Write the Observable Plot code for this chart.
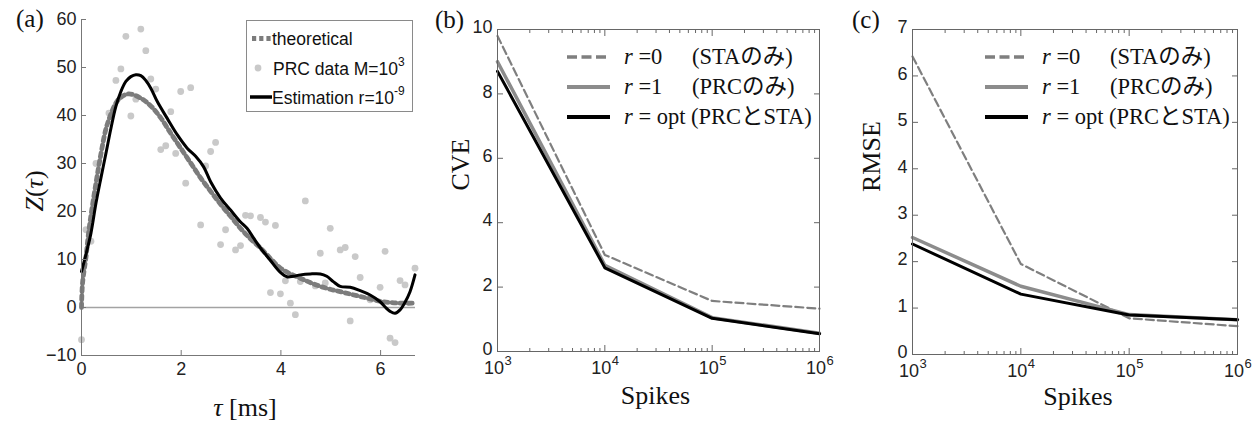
<!DOCTYPE html>
<html><head><meta charset="utf-8">
<script src="https://cdn.jsdelivr.net/npm/d3@7"></script>
<script src="https://cdn.jsdelivr.net/npm/@observablehq/plot@0.6"></script>
<style>
body{margin:0;background:#fff;}
#root{position:relative;width:1254px;height:427px;overflow:hidden;background:#fff;}
.panel{position:absolute;top:0;}
#ov{position:absolute;left:0;top:0;pointer-events:none;}
</style></head><body><div id="root"></div>
<script>
// ---------- Panel (a) data ----------
const thTau = [0, 0.02, 0.09, 0.15, 0.29, 0.39, 0.49, 0.59, 0.69, 0.79, 0.95, 1.19, 1.39, 1.59, 1.79, 1.99, 2.19, 2.39, 2.59, 2.79, 2.99, 3.19, 3.39, 3.59, 3.79, 3.99, 4.19, 4.39, 4.59, 4.79, 4.99, 5.19, 5.39, 5.59, 5.79, 5.99, 6.19, 6.39, 6.69];
const thZ = [0, 5, 10.5, 16.2, 25.9, 32, 37.2, 40.3, 42.6, 43.8, 44.5, 43.6, 42, 39.5, 36.3, 33.2, 30.1, 27, 24.2, 21.5, 19, 16.5, 14.3, 12.4, 10.2, 8.2, 7.0, 6.1, 5.2, 4.4, 3.8, 3.3, 2.8, 2.3, 1.8, 1.3, 1.05, 0.9, 0.9];
const estTau = [0, 0.1, 0.19, 0.29, 0.39, 0.49, 0.59, 0.69, 0.79, 0.89, 0.99, 1.09, 1.19, 1.29, 1.39, 1.52, 1.72, 1.92, 2.12, 2.29, 2.45, 2.59, 2.79, 2.99, 3.19, 3.32, 3.45, 3.59, 3.79, 3.99, 4.12, 4.25, 4.39, 4.59, 4.79, 4.92, 5.05, 5.19, 5.39, 5.59, 5.79, 5.99, 6.09, 6.19, 6.29, 6.39, 6.49, 6.59, 6.69];
const estZ = [7.5, 11.5, 15.5, 21.7, 27, 32.1, 37.3, 41.9, 45, 47.1, 48.1, 48.5, 48.3, 47.3, 45.7, 42.9, 39.4, 36, 33.2, 31.5, 29.3, 26.2, 22.8, 20.3, 17.8, 16.5, 14.5, 12.4, 9.8, 7.3, 6.4, 6.5, 6.8, 7.0, 7.0, 6.5, 5.4, 4.4, 4.2, 3.5, 2.6, 1.2, 0.1, -0.8, -1.2, -0.5, 1.1, 3.3, 6.8];
const prcTau = [0, 0.09, 0.19, 0.29, 0.55, 0.69, 0.79, 0.89, 0.99, 1.09, 1.19, 1.29, 1.39, 1.49, 1.59, 1.69, 1.79, 1.89, 1.99, 2.09, 2.19, 2.39, 2.49, 2.59, 2.69, 2.79, 2.89, 3.09, 3.19, 3.29, 3.39, 3.59, 3.69, 3.79, 3.89, 3.99, 4.09, 4.19, 4.29, 4.39, 4.49, 4.69, 4.79, 4.89, 4.99, 5.19, 5.29, 5.39, 5.49, 5.59, 5.79, 5.99, 6.09, 6.19, 6.29, 6.39, 6.49, 6.69];
const prcZ = [-6.7, 16.2, 13.8, 30, 40.5, 47.3, 49.7, 56.5, 39.9, 43.4, 58, 53.5, 47.6, 45.5, 32.9, 33.7, 40.8, 32.1, 45, 25.9, 45.8, 17.2, 29.5, 32.5, 34.4, 13.1, 16.2, 12.0, 12.9, 19.2, 19.1, 18.75, 17.8, 3.1, 17.1, 2.85, 5.55, 0.9, -1.5, 5.4, 22.2, 4.5, 11.3, 5.1, 16.5, 12.0, 12.5, -2.8, 10.6, 6.25, 1.6, 4.2, 11.7, -6.4, -7.3, 5.6, 4.7, 8.2];
const yTicksA = [-10, 0, 10, 20, 30, 40, 50, 60];
const xTicksA = [0, 2, 4, 6];

// ---------- Panels (b), (c) data ----------
const spikes = [1e3, 1e4, 1e5, 1e6];
const cveR0 = [9.8, 3.0, 1.57, 1.33];
const cveR1 = [9.0, 2.68, 1.05, 0.57];
const cveOpt = [8.7, 2.6, 1.03, 0.55];
const rmseR0 = [6.42, 1.95, 0.78, 0.61];
const rmseR1 = [2.52, 1.47, 0.86, 0.75];
const rmseOpt = [2.38, 1.30, 0.85, 0.75];
const yTicksB = [0, 2, 4, 6, 8, 10];
const yTicksC = [0, 1, 2, 3, 4, 5, 6, 7];
const minorSpikes = [2e3,3e3,4e3,5e3,6e3,7e3,8e3,9e3,2e4,3e4,4e4,5e4,6e4,7e4,8e4,9e4,2e5,3e5,4e5,5e5,6e5,7e5,8e5,9e5];

const zip = (xs, ys) => xs.map((x, i) => ({x, y: ys[i]}));
const SANS = "Liberation Sans, Arial, sans-serif";
const SERIF = "Liberation Serif, Times New Roman, serif";
const baseStyle = {fontFamily: SANS, fontSize: "18px", color: "#222", background: "transparent", overflow: "visible"};

const plotA = Plot.plot({
  width: 420, height: 427,
  marginLeft: 81, marginRight: 5, marginTop: 19, marginBottom: 72,
  x: {domain: [0, 6.7]},
  y: {domain: [-10, 60]},
  style: baseStyle,
  marks: [
    Plot.ruleY([0], {stroke: "#a3a3a3", strokeWidth: 1.4}),
    Plot.dot(zip(prcTau, prcZ), {x: "x", y: "y", r: 3.4, fill: "#c9c9c9", stroke: "none"}),
    Plot.line(zip(thTau, thZ), {x: "x", y: "y", stroke: "#7c7c7c", strokeWidth: 4.8, strokeDasharray: "4,4", curve: "catmull-rom"}),
    Plot.line(zip(estTau, estZ), {x: "x", y: "y", stroke: "#000", strokeWidth: 3, curve: "catmull-rom"}),
    Plot.ruleX([0], {stroke: "#777"}),
    Plot.ruleY([-10], {stroke: "#777"}),
    Plot.axisY(yTicksA, {tickSize: 0, tickPadding: 5, label: null}),
    Plot.axisY(yTicksA, {tickSize: 5, dx: 5, text: null, label: null, stroke: "#777"}),
    Plot.axisX(xTicksA, {tickSize: 0, tickPadding: 7, label: null}),
    Plot.axisX(xTicksA, {tickSize: 5, dy: -5, text: null, label: null, stroke: "#777"})
  ]
});

function errPanel({width, marginLeft, marginRight, marginBottom, yDomain, yTicks, r0, r1, ropt, yTitle, yTitleDx, xTitleDx, xTitleDy}) {
  return Plot.plot({
    width, height: 427, marginLeft, marginRight, marginTop: 29, marginBottom,
    x: {type: "log", domain: [1e3, 1e6]},
    y: {domain: yDomain},
    style: baseStyle,
    marks: [
      Plot.line(zip(spikes, r0), {x: "x", y: "y", stroke: "#7f7f7f", strokeWidth: 2.2, strokeDasharray: "8,4"}),
      Plot.line(zip(spikes, r1), {x: "x", y: "y", stroke: "#8c8c8c", strokeWidth: 3.5}),
      Plot.line(zip(spikes, ropt), {x: "x", y: "y", stroke: "#000", strokeWidth: 3}),
      Plot.frame({stroke: "#666"}),
      Plot.axisY(yTicks, {anchor: "left", tickSize: 0, tickPadding: 5, dy: -2, label: null}),
      Plot.axisY(yTicks, {anchor: "left", tickSize: 6, dx: 6, text: null, label: null, stroke: "#666"}),
      Plot.axisY(yTicks, {anchor: "right", tickSize: 6, dx: -6, text: null, label: null, stroke: "#666"}),
      Plot.axisX(spikes, {anchor: "bottom", tickSize: 6, dy: -6, text: null, label: null, stroke: "#666"}),
      Plot.axisX(spikes, {anchor: "top", tickSize: 6, dy: 6, text: null, label: null, stroke: "#666"}),
      Plot.axisX(minorSpikes, {anchor: "bottom", tickSize: 3, dy: -3, text: null, label: null, stroke: "#666"}),
      Plot.axisX(minorSpikes, {anchor: "top", tickSize: 3, dy: 3, text: null, label: null, stroke: "#666"}),
      Plot.text(spikes, {x: d => d, frameAnchor: "bottom", text: () => "10", textAnchor: "end", dx: 6.5, dy: 22, fontSize: 18, fill: "#222"}),
      Plot.text(spikes, {x: d => d, frameAnchor: "bottom", text: d => String(Math.round(Math.log10(d))), textAnchor: "start", dx: 7, dy: 13, fontSize: 13, fill: "#222"}),
      Plot.text(["Spikes"], {frameAnchor: "bottom", dx: xTitleDx, dy: xTitleDy, fontSize: 26, fontFamily: SERIF, fill: "#111"}),
      Plot.text([yTitle], {frameAnchor: "left", rotate: -90, dx: yTitleDx, fontSize: 26, fontFamily: SERIF, fill: "#111"})
    ]
  });
}

const plotB = errPanel({width: 420, marginLeft: 77, marginRight: 21, marginBottom: 76, yDomain: [0, 10], yTicks: yTicksB,
  r0: cveR0, r1: cveR1, ropt: cveOpt, yTitle: "CVE", yTitleDx: -37, xTitleDx: -3, xTitleDy: 52});
const plotC = errPanel({width: 414, marginLeft: 72, marginRight: 17, marginBottom: 73, yDomain: [0, 7], yTicks: yTicksC,
  r0: rmseR0, r1: rmseR1, ropt: rmseOpt, yTitle: "RMSE", yTitleDx: -41, xTitleDx: 3, xTitleDy: 50});

const root = document.getElementById("root");
[[plotA, 0], [plotB, 420], [plotC, 840]].forEach(([p, left]) => {
  const d = document.createElement("div");
  d.className = "panel"; d.style.left = left + "px";
  d.appendChild(p); root.appendChild(d);
});

// ---------- overlay: panel letters, mixed-style axis titles, legends ----------
const legendRows = [
  {r: "=0", paren: "(STAのみ)", stroke: "#7f7f7f", w: 3.6, dash: "10,4.5"},
  {r: "=1", paren: "(PRCのみ)", stroke: "#8c8c8c", w: 4.2, dash: null},
  {r: "= opt", paren: "(PRCとSTA)", stroke: "#000", w: 4.2, dash: null}
];
const rowY = [57, 87, 117];
function errLegend(x0) {
  return legendRows.map((row, i) => {
    const y = rowY[i];
    const line = `<line x1="${x0}" x2="${x0 + 43}" y1="${y}" y2="${y}" stroke="${row.stroke}" stroke-width="${row.w}" ${row.dash ? `stroke-dasharray="${row.dash}"` : ""}/>`;
    let txt;
    if (i < 2) {
      txt = `<text x="${x0 + 57}" y="${y + 7}" font-size="22.5"><tspan font-style="italic">r</tspan> ${row.r}</text>` +
            `<text x="${x0 + 125}" y="${y + 7}" font-size="22.5">${row.paren}</text>`;
    } else {
      txt = `<text x="${x0 + 57}" y="${y + 7}" font-size="22.5"><tspan font-style="italic">r</tspan> ${row.r} ${row.paren}</text>`;
    }
    return line + txt;
  }).join("");
}

const ov = `
<svg id="ov" width="1254" height="427" font-family="'Liberation Serif','Noto Sans CJK JP',serif" fill="#111">
  <text x="16" y="27" font-size="25">(a)</text>
  <text x="435" y="28" font-size="25">(b)</text>
  <text x="852" y="28" font-size="25">(c)</text>
  <text transform="translate(43,191) rotate(-90)" text-anchor="middle" font-size="26"><tspan font-style="italic">Z</tspan>(<tspan font-style="italic">τ</tspan>)</text>
  <text x="245" y="416" text-anchor="middle" font-size="26"><tspan font-style="italic">τ</tspan> [ms]</text>
  <g font-family="'Liberation Sans',Arial,sans-serif" font-size="17.5">
    <rect x="246.5" y="20.5" width="166" height="91" fill="#fff" stroke="#8a8a8a" stroke-width="1"/>
    <line x1="252" x2="271" y1="38.5" y2="38.5" stroke="#7c7c7c" stroke-width="4.8" stroke-dasharray="4.2,3"/>
    <circle cx="258" cy="68" r="3.4" fill="#c9c9c9"/>
    <line x1="250" x2="272" y1="97" y2="97" stroke="#000" stroke-width="3.5"/>
    <text x="272" y="45">theoretical</text>
    <text x="273" y="75">PRC data M=10<tspan font-size="12" dy="-9">3</tspan></text>
    <text x="272" y="104">Estimation r=10<tspan font-size="12" dy="-9">-9</tspan></text>
  </g>
  ${errLegend(567)}
  ${errLegend(985)}
</svg>`;
root.insertAdjacentHTML("beforeend", ov);
</script></body></html>
